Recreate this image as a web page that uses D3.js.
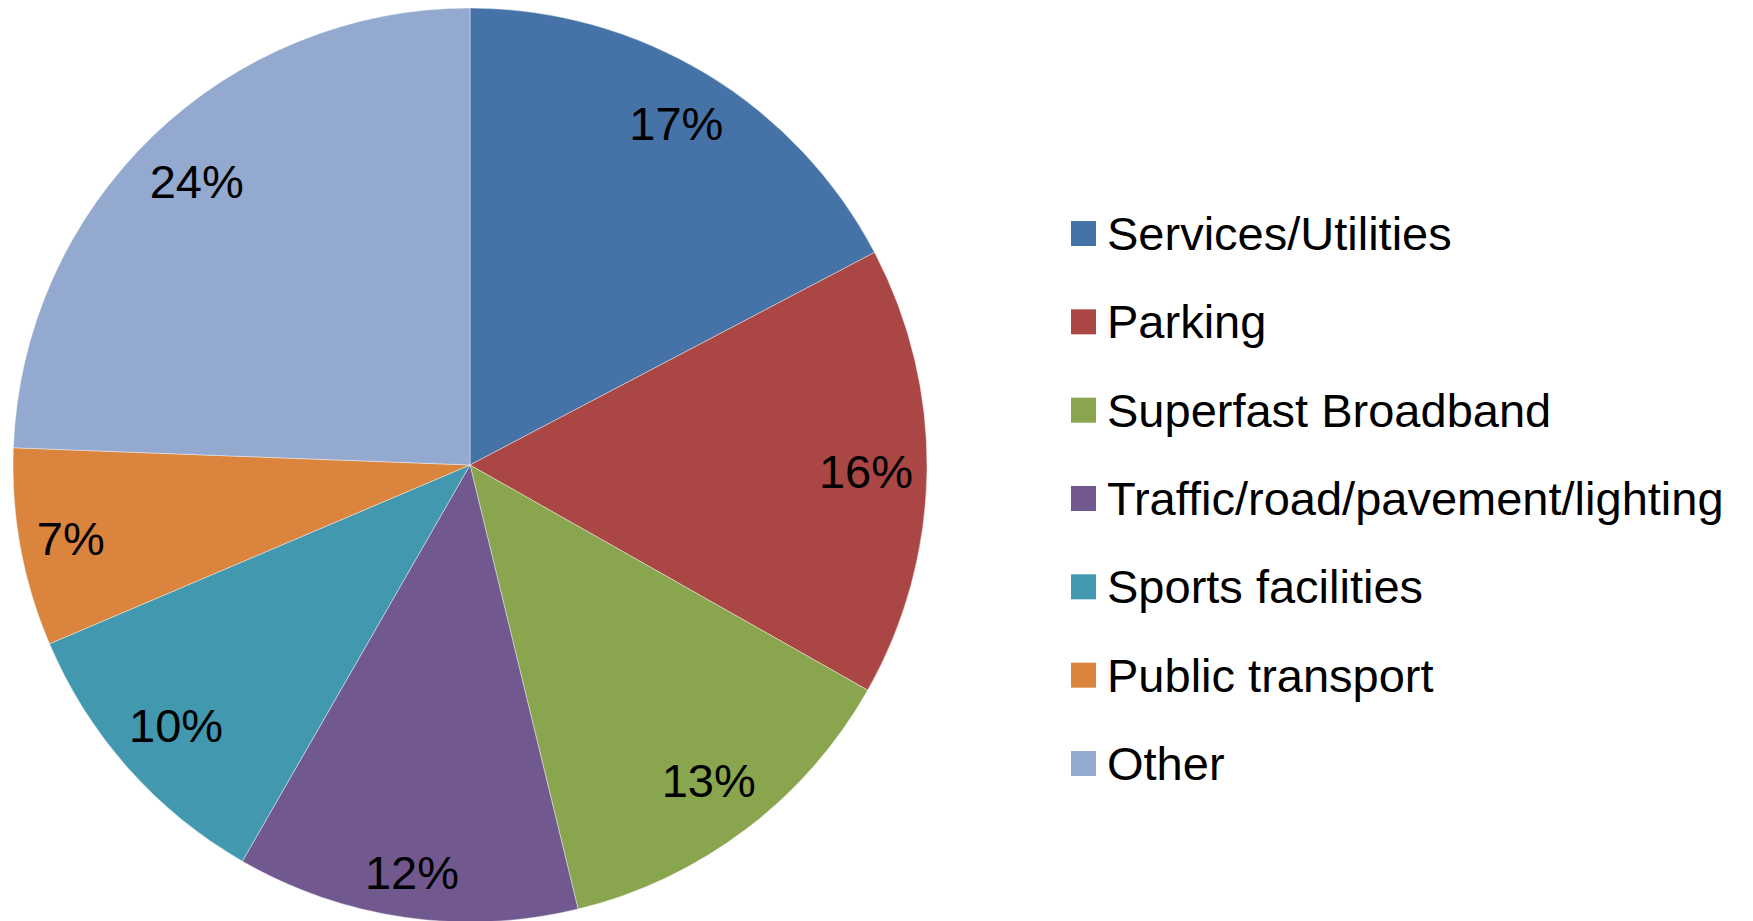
<!DOCTYPE html>
<html>
<head>
<meta charset="utf-8">
<script src="https://cdn.jsdelivr.net/npm/d3@7"></script>
<style>
  html, body { margin: 0; padding: 0; background: #fff; }
  svg text { font-family: "Liberation Sans", Arial, sans-serif; fill: #000; }
</style>
</head>
<body>
<svg id="chart_1"></svg>
<script>
// data (share of responses, %)
var categories = ["Services/Utilities", "Parking", "Superfast Broadband",
    "Traffic/road/pavement/lighting", "Sports facilities", "Public transport", "Other"];
var values = [17.3, 15.9, 13.0, 12.1, 10.3, 7.0, 24.4];
var labels = ["17%", "16%", "13%", "12%", "10%", "7%", "24%"];
var colors = ["#4572A7", "#AA4643", "#89A54E", "#71588F", "#4198AF", "#DB843D", "#93A9CF"];

var width = 1753,
    height = 921,
    cx = 470,
    cy = 465,
    radius = 457,
    fontSize = 47;

var svg = d3.select("#chart_1")
    .attr("width", width)
    .attr("height", height);

var table = categories.map(function (c, i) {
    return {name: c, value: values[i], label: labels[i], color: colors[i]};
});

var pie = d3.pie()
    .sort(null)
    .value(function (d) { return d.value; });

var arc = d3.arc()
    .innerRadius(0)
    .outerRadius(radius);

var pieGroup = svg.append("g")
    .attr("class", "pie")
    .attr("transform", "translate(" + cx + "," + cy + ")");

var arcs = pie(table);

pieGroup.selectAll("path")
    .data(arcs)
    .enter()
    .append("path")
    .attr("d", arc)
    .attr("fill", function (d) { return d.data.color; })
    .attr("stroke", "#fff")
    .attr("stroke-opacity", 0.5)
    .attr("stroke-width", 0.8);

// labels: "best fit" - push the label box out along the mid angle
// until its corners touch the circle (minus a small margin)
var labelSel = pieGroup.selectAll("text.pct")
    .data(arcs)
    .enter()
    .append("text")
    .attr("class", "pct")
    .attr("text-anchor", "middle")
    .attr("dy", "0.35em")
    .style("font-size", fontSize + "px")
    .text(function (d) { return d.data.label; });

labelSel.each(function (d) {
    var w = this.getComputedTextLength(),
        h = 48,
        mid = (d.startAngle + d.endAngle) / 2,
        limit = radius - 12,
        r = 0;
    for (var t = 0; t < radius; t += 1) {
        var x = Math.sin(mid) * t,
            y = -Math.cos(mid) * t;
        var far = d3.max([[-1, -1], [1, -1], [-1, 1], [1, 1]], function (s) {
            var px = x + s[0] * w / 2, py = y + s[1] * h / 2;
            return Math.sqrt(px * px + py * py);
        });
        if (far > limit) break;
        r = t;
    }
    d3.select(this)
        .attr("x", Math.sin(mid) * r)
        .attr("y", -Math.cos(mid) * r);
});

// legend
var legendY = d3.scalePoint()
    .domain(categories)
    .range([233.5, 763.5]);

var legend = svg.append("g")
    .attr("class", "legend")
    .selectAll("g")
    .data(table)
    .enter()
    .append("g")
    .attr("transform", function (d) { return "translate(1071," + legendY(d.name) + ")"; });

legend.append("rect")
    .attr("x", 0)
    .attr("y", -12.5)
    .attr("width", 25)
    .attr("height", 25)
    .attr("fill", function (d) { return d.color; });

legend.append("text")
    .attr("x", 36)
    .attr("dy", "0.35em")
    .style("font-size", fontSize + "px")
    .text(function (d) { return d.name; });
</script>
</body>
</html>
